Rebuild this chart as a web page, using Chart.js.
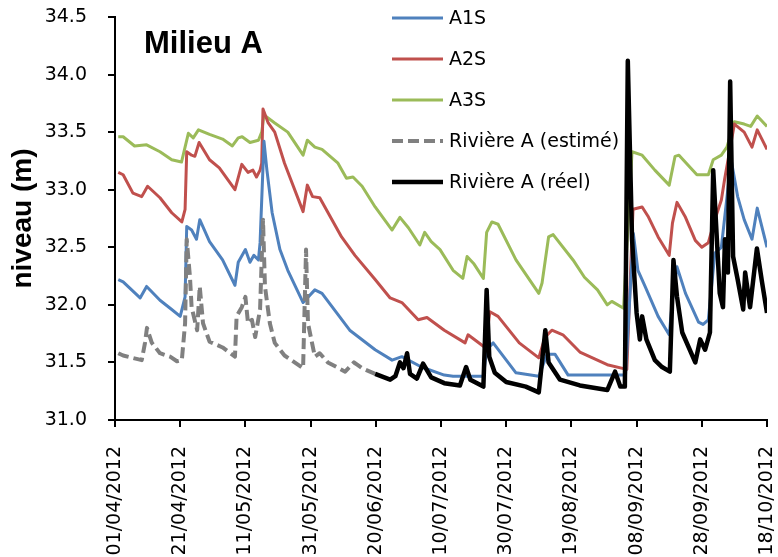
<!DOCTYPE html>
<html>
<head>
<meta charset="utf-8">
<script src="https://cdn.jsdelivr.net/npm/chart.js@4.4.0/dist/chart.umd.min.js"></script>
<style>
  body { margin: 0; background: #fff; }
  canvas { display: block; }
</style>
</head>
<body>
<canvas id="levelChart" width="778" height="557"></canvas>
<script>
// days since 01/04/2012, levels in m
const a1sDays = [1, 2.5, 7.7, 9.7, 13.8, 17.4, 20, 21.5, 22, 23.5, 25, 26, 29, 33, 36.8, 37.8, 40, 41.4, 42.6, 44, 44.5, 45.7, 46.6, 48.2, 50.6, 53, 57.7, 61.3, 63.5, 72, 79.8, 85, 88, 94, 101, 103.7, 113, 114, 116, 123, 130, 132.5, 135, 139, 156.6, 159, 160.4, 162.6, 166.6, 170, 171, 172.4, 175, 179, 180.4, 182, 184, 186, 189, 191, 193, 195.4, 197, 200];
const a1sLevels = [32.22, 32.2, 32.06, 32.16, 32.04, 31.96, 31.9, 32.07, 32.68, 32.65, 32.57, 32.74, 32.55, 32.39, 32.17, 32.37, 32.48, 32.37, 32.43, 32.39, 32.54, 33.42, 33.17, 32.8, 32.48, 32.3, 32.02, 32.13, 32.1, 31.78, 31.61, 31.52, 31.55, 31.46, 31.39, 31.38, 31.38, 31.61, 31.67, 31.41, 31.38, 31.57, 31.57, 31.39, 31.39, 32.62, 32.3, 32.16, 31.9, 31.74, 32.04, 32.33, 32.1, 31.85, 31.83, 31.87, 32.45, 32.5, 33.26, 32.94, 32.74, 32.57, 32.84, 32.5];

const a2sDays = [1, 2.5, 5.5, 8.2, 10, 13.8, 17.4, 20.5, 21.5, 22, 23.5, 24.5, 25.8, 29, 32, 36.8, 38.9, 40.8, 42.3, 43.4, 44.5, 45, 45.4, 47, 49, 52, 57.7, 59, 60.6, 62.8, 69.5, 73.6, 79.8, 84.4, 88, 93, 95.7, 101, 107.4, 108.3, 113.5, 115, 117.5, 124, 130, 131.9, 134, 137.4, 142.6, 151, 157, 158.9, 161.7, 163.5, 166.6, 170, 171, 172.4, 175, 178, 180, 182, 184, 186, 187, 190, 193, 195.4, 197, 200];
const a2sLevels = [33.15, 33.13, 32.97, 32.94, 33.03, 32.93, 32.8, 32.72, 32.83, 33.33, 33.3, 33.29, 33.41, 33.26, 33.19, 33.0, 33.22, 33.15, 33.17, 33.11, 33.17, 33.23, 33.7, 33.58, 33.5, 33.23, 32.81, 33.04, 32.94, 32.93, 32.59, 32.43, 32.22, 32.06, 32.02, 31.87, 31.89, 31.78, 31.67, 31.74, 31.63, 31.94, 31.9, 31.67, 31.54, 31.72, 31.78, 31.74, 31.59, 31.48, 31.44, 32.83, 32.85, 32.77, 32.59, 32.43, 32.71, 32.89, 32.76, 32.56, 32.5, 32.54, 32.74, 32.91, 33.09, 33.57, 33.5, 33.37, 33.52, 33.35];

const a3sDays = [1, 2.5, 6, 9.7, 13.8, 17.4, 20.4, 22.5, 24, 25.6, 29, 33, 36, 37.8, 39, 41.4, 44, 45, 45.7, 49, 53, 57.7, 59, 61.3, 63.5, 68.4, 71, 73, 75.8, 79.8, 85, 87.4, 90, 93.5, 95, 97, 99.7, 103.7, 106.7, 108, 110, 113, 114, 115.6, 117.5, 123, 130, 131, 133, 134.4, 140.5, 144, 148, 151, 152.4, 156, 158.6, 161.7, 165.6, 170, 171.8, 173, 178.5, 182, 183.5, 186, 187.7, 190, 193, 195, 197, 200];
const a3sLevels = [33.46, 33.46, 33.38, 33.39, 33.33, 33.26, 33.24, 33.49, 33.45, 33.52, 33.48, 33.44, 33.38, 33.45, 33.46, 33.41, 33.43, 33.5, 33.65, 33.58, 33.5, 33.3, 33.43, 33.37, 33.35, 33.23, 33.1, 33.11, 33.03, 32.85, 32.65, 32.76, 32.67, 32.52, 32.63, 32.55, 32.48, 32.3, 32.23, 32.42, 32.36, 32.23, 32.63, 32.72, 32.7, 32.39, 32.1, 32.19, 32.59, 32.61, 32.39, 32.24, 32.13, 32.0, 32.03, 31.97, 33.33, 33.3, 33.17, 33.04, 33.29, 33.3, 33.13, 33.13, 33.26, 33.3, 33.37, 33.59, 33.57, 33.55, 33.64, 33.55];

const estDays = [1, 2.5, 8.2, 9.2, 9.8, 11.3, 13.8, 16.9, 19, 20.5, 21.5, 22, 23, 23.5, 25.2, 26, 27, 29, 33, 36.8, 37.3, 38.9, 40, 40.8, 42, 43, 44.5, 45.4, 46, 47.5, 49, 52, 57.7, 58.6, 59.2, 61.3, 62.8, 65.3, 70.6, 73.3, 75.8, 79.8];
const estLevels = [31.58, 31.56, 31.52, 31.67, 31.8, 31.67, 31.58, 31.55, 31.51, 31.52, 31.84, 32.57, 32.24, 31.98, 31.78, 32.16, 31.84, 31.68, 31.63, 31.55, 31.9, 31.98, 32.07, 31.84, 31.87, 31.72, 31.96, 32.74, 32.16, 31.84, 31.67, 31.56, 31.45, 32.48, 31.84, 31.55, 31.58, 31.5, 31.42, 31.5, 31.45, 31.4];

const reelDays = [79.8, 84.4, 86, 87.4, 88.5, 89.6, 90.5, 92.6, 94.5, 97, 101, 105.8, 107.7, 109, 113, 114, 114.8, 116.5, 120, 126, 130, 132, 133, 136.5, 142.6, 151, 153.4, 155, 156.4, 157.3, 158.6, 160, 161, 161.7, 163, 165.6, 167.8, 170.2, 171.3, 172.4, 174, 178, 179.5, 181, 182.5, 183.5, 185.5, 186.5, 187.1, 188, 188.7, 189.6, 191, 192.7, 193.3, 194.8, 196.9, 198.4, 200];
const reelLevels = [31.4, 31.35, 31.38, 31.5, 31.45, 31.58, 31.4, 31.36, 31.49, 31.37, 31.32, 31.3, 31.46, 31.35, 31.29, 32.13, 31.55, 31.41, 31.33, 31.29, 31.24, 31.78, 31.5, 31.35, 31.3, 31.26, 31.42, 31.29, 31.29, 34.12, 32.57, 31.93, 31.7, 31.9, 31.7, 31.52, 31.46, 31.42, 32.39, 32.07, 31.76, 31.5, 31.7, 31.61, 31.76, 33.17, 32.1, 31.98, 32.57, 32.28, 33.94, 32.42, 32.22, 31.96, 32.28, 31.98, 32.49, 32.21, 31.93];

const yTicks = [31.0, 31.5, 32.0, 32.5, 33.0, 33.5, 34.0, 34.5];
const startDate = Date.UTC(2012, 3, 1);

function pairs(days, levels) {
  return days.map((d, i) => ({ x: d, y: levels[i] }));
}

function dayLabel(v) {
  const d = new Date(startDate + v * 86400000);
  const dd = String(d.getUTCDate()).padStart(2, "0");
  const mm = String(d.getUTCMonth() + 1).padStart(2, "0");
  return dd + "/" + mm + "/" + d.getUTCFullYear();
}

// legend + panel title drawn inside the plot
const insideLabels = {
  id: "insideLabels",
  afterDraw(chart) {
    const ctx = chart.ctx;
    ctx.save();
    ctx.textBaseline = "middle";
    ctx.textAlign = "left";
    chart.data.datasets.forEach((ds, i) => {
      const y = 18 + i * 41;
      ctx.strokeStyle = ds.borderColor;
      ctx.lineWidth = ds.borderWidth;
      ctx.setLineDash(ds.borderDash || []);
      ctx.beginPath();
      ctx.moveTo(392, y);
      ctx.lineTo(443, y);
      ctx.stroke();
      ctx.setLineDash([]);
      ctx.fillStyle = "#000";
      ctx.font = "19px 'DejaVu Sans'";
      ctx.fillText(ds.label, 449, y + 1);
    });
    ctx.font = "bold 31px 'Liberation Sans'";
    ctx.fillText("Milieu A", 144, 44);
    ctx.restore();
  }
};

const ctx = document.getElementById("levelChart").getContext("2d");
new Chart(ctx, {
  type: "line",
  data: {
    datasets: [
      {
        label: "A1S",
        data: pairs(a1sDays, a1sLevels),
        borderColor: "#4F81BD",
        borderWidth: 3,
        order: 2
      },
      {
        label: "A2S",
        data: pairs(a2sDays, a2sLevels),
        borderColor: "#C0504D",
        borderWidth: 3,
        order: 3
      },
      {
        label: "A3S",
        data: pairs(a3sDays, a3sLevels),
        borderColor: "#9BBB59",
        borderWidth: 3,
        order: 4
      },
      {
        label: "Rivière A (estimé)",
        data: pairs(estDays, estLevels),
        borderColor: "#808080",
        borderWidth: 4,
        borderDash: [11, 5],
        order: 1
      },
      {
        label: "Rivière A (réel)",
        data: pairs(reelDays, reelLevels),
        borderColor: "#000000",
        borderWidth: 4.5,
        order: 0
      }
    ]
  },
  options: {
    responsive: false,
    animation: false,
    layout: { padding: { top: 17, right: 11, left: 0, bottom: 0 } },
    elements: {
      point: { radius: 0 },
      line: { tension: 0, borderJoinStyle: "round", fill: false }
    },
    plugins: {
      legend: { display: false },
      tooltip: { enabled: false }
    },
    scales: {
      x: {
        type: "linear",
        min: 0,
        max: 200,
        afterFit: (s) => {
          s.height = 137;
          s.paddingLeft = 0;
          s.paddingRight = 0;
        },
        ticks: {
          stepSize: 20,
          minRotation: 90,
          maxRotation: 90,
          padding: 19,
          color: "#000",
          font: { family: "DejaVu Sans", size: 19 },
          callback: (v) => dayLabel(v)
        },
        grid: { drawOnChartArea: false, tickLength: 7, color: "#000", lineWidth: 2 },
        border: { color: "#000", width: 2 }
      },
      y: {
        min: 31,
        max: 34.5,
        afterFit: (s) => {
          s.width = 115;
          s.paddingTop = 0;
          s.paddingBottom = 0;
        },
        afterBuildTicks: (s) => { s.ticks = yTicks.map((v) => ({ value: v })); },
        ticks: {
          padding: 21,
          color: "#000",
          font: { family: "DejaVu Sans", size: 19 },
          callback: (v) => v.toFixed(1)
        },
        grid: { drawOnChartArea: false, tickLength: 7, color: "#000", lineWidth: 2 },
        border: { color: "#000", width: 2 },
        title: {
          display: true,
          text: "niveau (m)",
          color: "#000",
          font: { family: "Liberation Sans", size: 28, weight: "bold" },
          padding: { top: 6, bottom: 0 }
        }
      }
    }
  },
  plugins: [insideLabels]
});
</script>
</body>
</html>
